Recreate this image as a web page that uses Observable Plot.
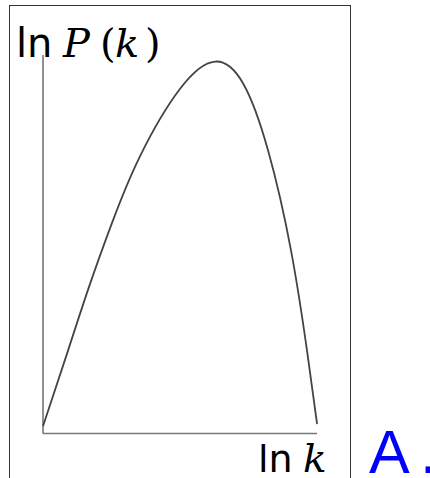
<!DOCTYPE html>
<html>
<head>
<meta charset="utf-8">
<script src="https://cdn.jsdelivr.net/npm/d3@7"></script>
<script src="https://cdn.jsdelivr.net/npm/@observablehq/plot@0.6"></script>
<style>
  html, body { margin: 0; padding: 0; background: #fff; overflow: hidden; }
  #fig { position: relative; width: 430px; height: 478px; }
  #fig svg { position: absolute; left: 0; top: 0; background: transparent; }
  #box { position: absolute; left: 8.5px; top: 4.5px; width: 342px; height: 520px;
         border: 1.3px solid #333; box-sizing: border-box; pointer-events: none; }
</style>
</head>
<body>
<div id="fig"><div id="box"></div></div>
<script>
// Log-degree distribution sketch: ln P(k) against ln k (arbitrary units)
const lnK = [0.01, 0.94, 1.82, 2.77, 3.90, 5.50, 6.90, 8.02, 9.02, 9.94, 10.58, 10.98];
const lnP = [0.32, 3.10, 5.75, 8.37, 11.03, 13.69, 14.76, 13.89, 11.23, 7.26, 3.29, 0.40];
const xDomain = [0, 11];
const yDomain = [0, 15];

const yLabelFn = "ln";
const yLabelMath = [["P", true], ["(", false], ["k", true], [")", false]];
const xLabelFn = "ln";
const xLabelMath = [["k", true]];
const panelTag = ["A", "."];

const curve = lnK.map((x, i) => ({x, y: lnP[i]}));

const chart = Plot.plot({
  width: 430,
  height: 478,
  marginLeft: 42.5,
  marginRight: 113,
  marginTop: 55,
  marginBottom: 45,
  x: {domain: xDomain, axis: null},
  y: {domain: yDomain, axis: null},
  marks: [
    Plot.ruleX([0], {stroke: "#777", strokeWidth: 1.6}),
    Plot.ruleY([0], {stroke: "#777", strokeWidth: 1.6}),
    Plot.line(curve, {x: "x", y: "y", curve: "natural", stroke: "#444", strokeWidth: 1.8})
  ]
});

const fig = document.getElementById("fig");
fig.insertBefore(chart, fig.firstChild);

const svg = d3.select(chart);

// Axis label: sans-serif operator followed by math-style symbols, each symbol placed on its own
function label(fn, math, fnX, mathXs, baseline, fnSize, mathSize) {
  const t = svg.append("text")
    .attr("y", baseline)
    .attr("text-anchor", "start")
    .attr("fill", "#000");
  t.append("tspan")
    .attr("x", fnX)
    .attr("font-family", "DejaVu Sans")
    .attr("font-size", fnSize)
    .text(fn);
  math.forEach(([s, italic], i) => {
    t.append("tspan")
      .attr("x", mathXs[i])
      .attr("font-family", "DejaVu Serif")
      .attr("font-size", mathSize)
      .attr("font-style", italic ? "italic" : "normal")
      .text(s);
  });
  return t;
}

label(yLabelFn, yLabelMath, 16, [63, 100, 115, 145], 57, 40, 40);
label(xLabelFn, xLabelMath, 258, [303], 472, 38, 39);

const tag = svg.append("text")
  .attr("y", 473)
  .attr("text-anchor", "start")
  .attr("font-family", "Liberation Sans")
  .attr("font-size", 61)
  .attr("fill", "#0000ff");
tag.append("tspan").attr("x", 369).text(panelTag[0]);
tag.append("tspan").attr("x", 420).text(panelTag[1]);
</script>
</body>
</html>
